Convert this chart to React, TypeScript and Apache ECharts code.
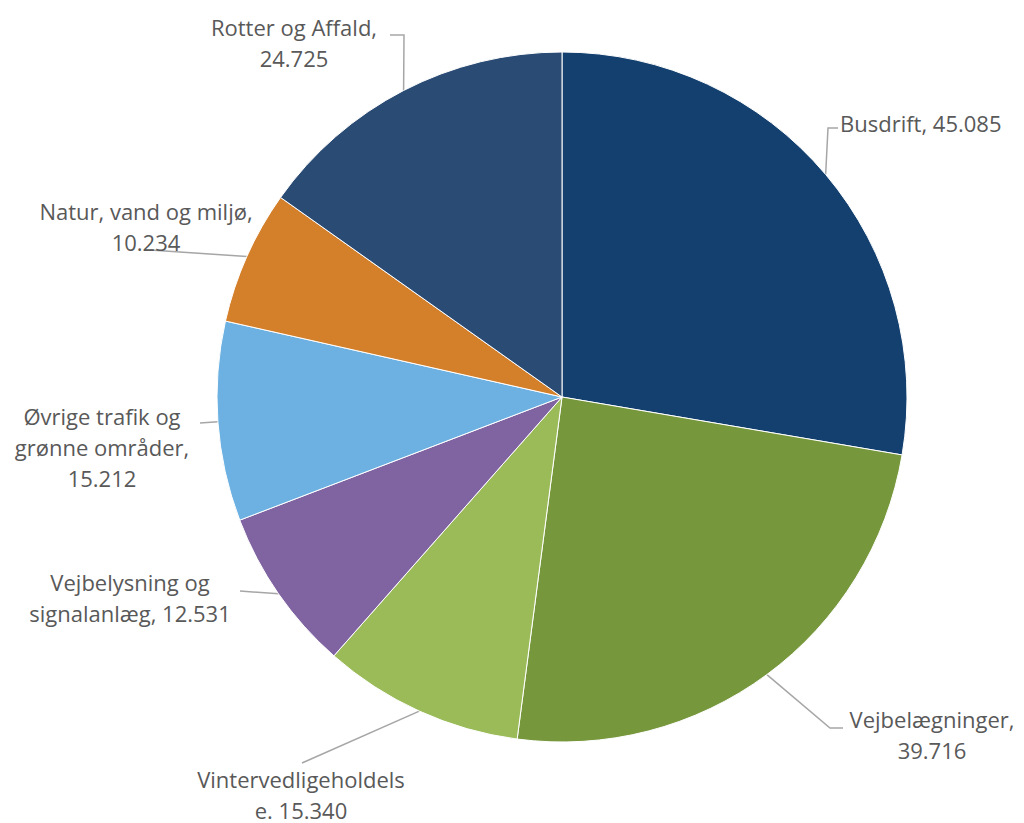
import React, { useEffect, useRef } from "react";
import * as echarts from "echarts";

const categories = [
  "Busdrift",
  "Vejbelægninger",
  "Vintervedligeholdelse",
  "Vejbelysning og signalanlæg",
  "Øvrige trafik og grønne områder",
  "Natur, vand og miljø",
  "Rotter og Affald",
];
const values = [45.085, 39.716, 15.34, 12.531, 15.212, 10.234, 24.725];
const valueLabels = ["45.085", "39.716", "15.340", "12.531", "15.212", "10.234", "24.725"];
const labelTexts = [
  "Busdrift, 45.085",
  "Vejbelægninger,\n39.716",
  "Vintervedligeholdels\ne. 15.340",
  "Vejbelysning og\nsignalanlæg, 12.531",
  "Øvrige trafik og\ngrønne områder,\n15.212",
  "Natur, vand og miljø,\n10.234",
  "Rotter og Affald,\n24.725",
];
const colors = ["#13406F", "#77973C", "#9BBB59", "#8064A2", "#6CB1E1", "#D47F2A", "#2A4B74"];

// label placement (layout only)
const labelPlace = [
  { x: 840, y: 123, align: "left", bend: [[828, 128], [838, 128]] },
  { x: 932, y: 734, align: "center", bend: [[830, 728], [843, 728]] },
  { x: 301, y: 794, align: "center", bend: [[302, 763]] },
  { x: 130, y: 597, align: "center", bend: [[240, 591]] },
  { x: 102, y: 447, align: "center", bend: [[200, 423]] },
  { x: 146, y: 226, align: "center", bend: [[150, 250]] },
  { x: 294, y: 42, align: "center", bend: [[404, 35], [390, 35]] },
];

export default function App() {
  const ref = useRef<HTMLDivElement>(null);
  useEffect(() => {
    if (!ref.current) return;
    const chart = echarts.init(ref.current, undefined, { renderer: "svg" });
    chart.setOption({
      animation: false,
      backgroundColor: "#ffffff",
      series: [
        {
          type: "pie",
          center: [562, 397],
          radius: [0, 345],
          startAngle: 90,
          clockwise: true,
          avoidLabelOverlap: false,
          data: categories.map((c, i) => ({
            name: c,
            value: values[i],
            itemStyle: { color: colors[i] },
          })),
          itemStyle: { borderColor: "#ffffff", borderWidth: 1 },
          label: {
            show: true,
            position: "outside",
            formatter: (p: any) => labelTexts[p.dataIndex],
            color: "#595959",
            fontFamily: "'Open Sans', 'Noto Sans', sans-serif",
            fontSize: 22,
            lineHeight: 31,
          },
          labelLine: {
            show: true,
            length: 20,
            length2: 10,
            lineStyle: { color: "#A6A6A6", width: 1.5 },
          },
          labelLayout: (params: any) => {
            const lp = labelPlace[params.dataIndex];
            const start = params.labelLinePoints ? params.labelLinePoints[0] : lp.bend[0];
            return {
              x: lp.x,
              y: lp.y,
              align: lp.align,
              verticalAlign: "middle",
              labelLinePoints: [start, ...lp.bend],
            };
          },
          emphasis: { disabled: true },
        },
      ],
    });
    return () => chart.dispose();
  }, []);
  return (
    <div
      ref={ref}
      style={{ position: "fixed", left: 0, top: 0, width: 1024, height: 823 }}
    />
  );
}
